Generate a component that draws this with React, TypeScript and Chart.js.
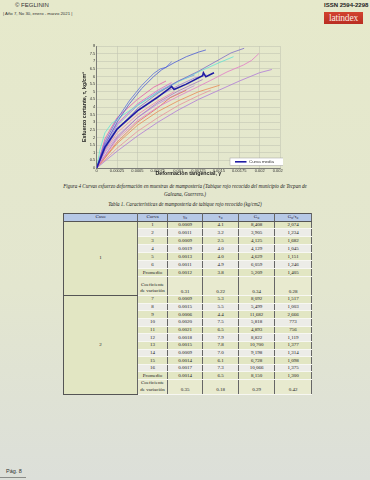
import React, { useEffect, useRef } from "react";
import { Chart, registerables } from "chart.js";

Chart.register(...registerables);

// ---- chart data: [γ, τ] pairs ----
const curve1 = [[0, 0], [0.0001, 1.5], [0.00025, 3.0], [0.0004, 4.2], [0.00055, 5.2], [0.0007, 6.0], [0.0008, 6.45], [0.00095, 6.9], [0.0011, 7.3], [0.00125, 7.6], [0.00134, 7.74]];
const curve2 = [[0, 0], [0.0001, 1.7], [0.00025, 3.2], [0.0004, 4.4], [0.00055, 5.4], [0.0007, 6.2], [0.00078, 6.5], [0.00085, 6.6], [0.00092, 6.97]];
const curve3 = [[0, 0], [0.0001, 1.2], [0.00025, 2.5], [0.0005, 3.9], [0.00075, 4.9], [0.001, 5.7], [0.00125, 6.35], [0.0015, 7.1], [0.00165, 7.55], [0.00181, 7.85]];
const curve4 = [[0, 0], [0.00004, 1.2], [0.0001, 2.3], [0.00018, 2.9], [0.0003, 3.4], [0.0005, 4.1], [0.00075, 4.95], [0.001, 5.65], [0.00125, 6.3], [0.0015, 6.9], [0.00168, 7.3]];
const curve5 = [[0, 0], [0.00025, 1.9], [0.0005, 3.1], [0.00075, 4.0], [0.001, 4.7], [0.00125, 5.35], [0.0014, 5.75], [0.0016, 6.3], [0.0018, 6.75], [0.0019, 7.05], [0.00199, 7.5]];
const curve6 = [[0, 0], [0.00025, 1.1], [0.0005, 2.1], [0.00075, 3.0], [0.001, 3.8], [0.00125, 4.5], [0.0015, 5.1], [0.00175, 5.7], [0.002, 6.25], [0.00215, 6.46]];
const curve7 = [[0, 0], [0.00025, 1.6], [0.0005, 2.8], [0.00075, 3.7], [0.001, 4.4], [0.00125, 5.0], [0.00151, 5.43]];
const curve8 = [[0, 0], [0.0001, 1.6], [0.00025, 2.9], [0.0005, 4.2], [0.00075, 5.1], [0.00092, 5.6]];
const curve9 = [[0, 0], [0.0001, 1.3], [0.00025, 2.6], [0.0005, 3.8], [0.00075, 4.7], [0.001, 5.4], [0.0012, 5.9], [0.00135, 6.1]];
const curve10 = [[0, 0], [0.00025, 1.3], [0.0005, 2.4], [0.00075, 3.3], [0.001, 4.1], [0.00125, 4.75], [0.0014, 5.1]];
const curve11 = [[0, 0], [0.0001, 1.1], [0.00025, 2.3], [0.0005, 3.5], [0.00075, 4.4], [0.00095, 5.0]];
const curve12 = [[0, 0], [0.00025, 2.0], [0.0005, 3.3], [0.00075, 4.3], [0.001, 5.05], [0.0013, 5.8]];
const curve13 = [[0, 0], [0.0001, 1.4], [0.00025, 2.8], [0.0005, 4.1], [0.00075, 5.0], [0.001, 5.7], [0.0012, 6.1]];
const curve14 = [[0, 0], [0.00025, 1.7], [0.0005, 3.0], [0.00075, 3.95], [0.0009, 4.6], [0.0011, 5.1]];
const curve15 = [[0, 0], [0.0001, 1.0], [0.00025, 2.1], [0.0005, 3.3], [0.00075, 4.2], [0.001, 4.9], [0.0012, 5.4]];
const curve16 = [[0, 0], [0.0001, 1.9], [0.00025, 3.3], [0.0005, 4.5], [0.0007, 5.3], [0.00085, 5.7]];
const meanCurve = [[0, 0], [0.0001, 1.35], [0.00025, 2.55], [0.0005, 3.75], [0.00075, 4.65], [0.0009, 5.25], [0.00092, 5.35], [0.00095, 5.15], [0.0011, 5.5], [0.0013, 6.05], [0.00131, 6.25], [0.00134, 5.98], [0.00144, 6.24]];

const curves = [curve1, curve2, curve3, curve4, curve5, curve6, curve7, curve8, curve9, curve10, curve11, curve12, curve13, curve14, curve15, curve16];
const curveColors = ["#4b5bd6", "#5a6ee0", "#7d6cc8", "#62e3d3", "#e27ac8", "#b07ad8", "#e88a55", "#d966d0", "#9b7be0", "#e8909c", "#ec7fb0", "#a574c4", "#7a8ae8", "#e0705a", "#c08ae0", "#e35aa8"];
const meanLabel = "Curva media";
const xTitle = "Deformación tangencial, γ";
const yTitle = "Esfuerzo cortante, τ, kg/cm²";

// ---- table data ----
const case1Curves = ["1", "2", "3", "4", "5", "6"];
const case1Gamma = ["0.0009", "0.0011", "0.0009", "0.0019", "0.0013", "0.0011"];
const case1Tau = ["4.1", "3.2", "2.5", "4.0", "4.0", "4.9"];
const case1G = ["8,408", "3,905", "4,125", "4,129", "4,629", "6,059"];
const case1Ratio = ["2,074", "1,234", "1,682", "1,045", "1,151", "1,246"];
const case1Prom = ["0.0012", "3.8", "5,209", "1,405"];
const case1Coef = ["0.31", "0.22", "0.34", "0.28"];

const case2Curves = ["7", "8", "9", "10", "11", "12", "13", "14", "15", "16"];
const case2Gamma = ["0.0009", "0.0015", "0.0006", "0.0020", "0.0021", "0.0018", "0.0015", "0.0009", "0.0014", "0.0017"];
const case2Tau = ["5.3", "5.5", "4.4", "7.5", "6.5", "7.9", "7.8", "7.0", "6.1", "7.3"];
const case2G = ["8,092", "5,499", "11,682", "5,818", "4,893", "8,822", "10,700", "9,198", "6,728", "10,066"];
const case2Ratio = ["1,517", "1,003", "2,666", "773", "756", "1,119", "1,377", "1,314", "1,098", "1,375"];
const case2Prom = ["0.0014", "6.5", "8,150", "1,300"];
const case2Coef = ["0.35", "0.18", "0.29", "0.42"];

const SANS = "'Liberation Sans', Arial, sans-serif";
const SERIF = "'Liberation Serif', 'Times New Roman', serif";

const toPts = (arr: number[][]) => arr.map(([x, y]) => ({ x, y }));

const legendPlugin = {
  id: "insideLegend",
  afterDraw(chart: any) {
    const { ctx, chartArea } = chart;
    const r = chartArea.right;
    const b = chartArea.bottom;
    ctx.save();
    ctx.fillStyle = "#ffffff";
    ctx.strokeStyle = "#a0a0a0";
    ctx.lineWidth = 0.5;
    ctx.fillRect(r - 50, b - 10, 62, 7.5);
    ctx.strokeRect(r - 50, b - 10, 62, 7.5);
    ctx.strokeStyle = "#1f1ca3";
    ctx.lineWidth = 1.6;
    ctx.beginPath();
    ctx.moveTo(r - 45, b - 6.2);
    ctx.lineTo(r - 33.5, b - 6.2);
    ctx.stroke();
    ctx.fillStyle = "#333";
    ctx.font = `4.4px ${SANS}`;
    ctx.textBaseline = "middle";
    ctx.fillText(chart.data.datasets[0].label, r - 31, b - 6.1);
    ctx.restore();
  },
};

function StressChart() {
  const ref = useRef<HTMLCanvasElement>(null);
  useEffect(() => {
    if (!ref.current) return;
    const datasets: any[] = [
      {
        label: meanLabel,
        data: toPts(meanCurve),
        borderColor: "#1f1ca3",
        backgroundColor: "#1f1ca3",
        borderWidth: 1.6,
        showLine: true,
        pointRadius: 0,
        order: 0,
      },
      ...curves.map((c, i) => ({
        label: `Curva ${i + 1}`,
        data: toPts(c),
        borderColor: curveColors[i],
        backgroundColor: curveColors[i],
        borderWidth: 0.8,
        showLine: true,
        pointRadius: 0,
        order: 1,
      })),
    ];
    const chart = new Chart(ref.current, {
      type: "scatter",
      data: { datasets },
      plugins: [legendPlugin],
      options: {
        animation: false,
        responsive: false,
        maintainAspectRatio: false,
        devicePixelRatio: 1,
        layout: { padding: { top: 10, right: 25, bottom: 0, left: 0 } },
        plugins: { legend: { display: false }, tooltip: { enabled: false } },
        scales: {
          x: {
            type: "linear",
            min: 0,
            max: 0.00225,
            afterFit: (s: any) => { s.height = 9; },
            ticks: {
              stepSize: 0.00025,
              autoSkip: false,
              maxRotation: 0,
              padding: 0.5,
              color: "#333",
              font: { size: 4, family: SANS },
              callback: (v: any) => String(Math.round(Number(v) * 100000) / 100000),
            },
            title: { display: true, text: xTitle, color: "#222", padding: 0, font: { size: 5.3, weight: "bold", family: SANS } },
            grid: { color: "#c3c6b4", lineWidth: 0.6, drawTicks: false },
            border: { color: "#666", width: 0.8 },
          },
          y: {
            min: 0,
            max: 8,
            afterFit: (s: any) => { s.width = 16.7; },
            ticks: {
              stepSize: 0.5,
              autoSkip: false,
              padding: 1.5,
              color: "#333",
              font: { size: 4, family: SANS },
              callback: (v: any) => String(v),
            },
            title: { display: true, text: yTitle, color: "#222", padding: 1, font: { size: 5.3, weight: "bold", family: SANS } },
            grid: { color: "#c3c6b4", lineWidth: 0.6, drawTicks: false },
            border: { color: "#666", width: 0.8 },
          },
        },
      } as any,
    });
    return () => chart.destroy();
  }, []);
  return <canvas ref={ref} width={225} height={141} style={{ width: 225, height: 141, display: "block" }} />;
}

const cellBase: React.CSSProperties = {
  padding: 0,
  textAlign: "center",
  fontSize: 5,
  lineHeight: "6px",
  color: "#222",
  borderLeft: "0.7px solid #666",
  borderRight: "0.7px solid #666",
  borderTop: "0.6px solid #f7f7f2",
  borderBottom: "0.6px solid #f7f7f2",
  whiteSpace: "nowrap",
  overflow: "hidden",
};
const GREEN = "#e2e6c3";
const GRAY = "#ecece7";

function ValueRow({ cells, h, bg, first }: { cells: string[]; h: number; bg: string; first?: React.ReactNode }) {
  return (
    <tr style={{ height: h }}>
      {first}
      {cells.map((c, i) => (
        <td key={i} style={{ ...cellBase, background: bg }}>{c}</td>
      ))}
    </tr>
  );
}

function CoefRow({ values, h }: { values: string[]; h: number }) {
  return (
    <tr style={{ height: h }}>
      <td style={{ ...cellBase, background: "#e8eacf", verticalAlign: "bottom", lineHeight: "6.5px", paddingBottom: 0.5 }}>
        Coeficiente<br />de variación
      </td>
      {values.map((v, i) => (
        <td key={i} style={{ ...cellBase, background: "#e8eacf", verticalAlign: "bottom", paddingBottom: 0.5 }}>{v}</td>
      ))}
    </tr>
  );
}

function CaseBlock({ caseLabel, ids, gamma, tau, g, ratio, prom, coef, rowH, coefH }: any) {
  const caseCell = (
    <td rowSpan={ids.length + 2} style={{ ...cellBase, background: GREEN, borderLeft: "0.8px solid #555", borderTop: "0.7px solid #555", borderBottom: "0.7px solid #555" }}>
      {caseLabel}
    </td>
  );
  return (
    <>
      {ids.map((id: string, i: number) => (
        <ValueRow key={id} h={rowH} bg={i % 2 === 0 ? GREEN : GRAY} cells={[id, gamma[i], tau[i], g[i], ratio[i]]} first={i === 0 ? caseCell : undefined} />
      ))}
      <ValueRow h={rowH} bg={ids.length % 2 === 0 ? GREEN : GRAY} cells={["Promedio", ...prom]} />
      <CoefRow values={coef} h={coefH} />
    </>
  );
}

export default function App() {
  const headStyle: React.CSSProperties = {
    ...cellBase,
    background: "#b6c8e6",
    color: "#1f2740",
    borderTop: "0.8px solid #555",
    borderBottom: "0.8px solid #555",
  };
  const sub = (t: string) => <sub style={{ fontSize: 3.5, verticalAlign: "-1px" }}>{t}</sub>;
  return (
    <div
      style={{
        position: "absolute",
        left: 0,
        top: 0,
        width: 370,
        height: 480,
        overflow: "hidden",
        background: "linear-gradient(180deg, #e6e9cb 0%, #e3e6cf 60%, #dcdfd9 100%)",
        fontFamily: SANS,
      }}
    >
      {/* header */}
      <div style={{ position: "absolute", left: 15, top: 2, fontSize: 6, color: "#333", lineHeight: "7px" }}>© FEGLININ</div>
      <div style={{ position: "absolute", left: 3, top: 11, fontSize: 4.3, color: "#333", lineHeight: "6px" }}>| Año 7, No 30, enero - marzo 2021 |</div>
      <div style={{ position: "absolute", left: 324, top: 2, fontSize: 6, fontWeight: "bold", color: "#222", lineHeight: "7px" }}>ISSN 2594-2298</div>
      <div
        style={{
          position: "absolute",
          left: 324,
          top: 11.5,
          width: 39,
          height: 12.5,
          background: "linear-gradient(180deg, #d2432f 0%, #b92d22 100%)",
          color: "#fbe9e2",
          fontFamily: SERIF,
          fontSize: 9.5,
          lineHeight: "12.5px",
          textAlign: "center",
          letterSpacing: -0.2,
        }}
      >
        latindex
      </div>

      {/* chart */}
      <div style={{ position: "absolute", left: 80, top: 36, width: 203, height: 141, overflow: "hidden" }}>
        <StressChart />
      </div>

      {/* captions */}
      <div style={{ position: "absolute", left: 0, width: 370, top: 183, textAlign: "center", fontFamily: SERIF, fontStyle: "italic", fontSize: 5.1, lineHeight: "7.5px", color: "#222" }}>
        Figura 4 Curvas esfuerzo deformación en muestras de mampostería (Tabique rojo recocido del municipio de Tecpan de
        <br />
        Galeana, Guerrero.)
      </div>
      <div style={{ position: "absolute", left: 0, width: 370, top: 201, textAlign: "center", fontFamily: SERIF, fontStyle: "italic", fontSize: 5.1, lineHeight: "6px", color: "#222" }}>
        Tabla 1. Características de mampostería de tabique rojo recocido (kg/cm2)
      </div>

      {/* table */}
      <table
        style={{
          position: "absolute",
          left: 63,
          top: 212.5,
          width: 248,
          borderCollapse: "collapse",
          tableLayout: "fixed",
          fontFamily: SERIF,
          borderRight: "0.8px solid #555",
        }}
      >
        <colgroup>
          <col style={{ width: 74 }} />
          <col style={{ width: 30 }} />
          <col style={{ width: 35 }} />
          <col style={{ width: 36 }} />
          <col style={{ width: 36 }} />
          <col style={{ width: 37 }} />
        </colgroup>
        <tbody>
          <tr style={{ height: 8 }}>
            <td style={{ ...headStyle, borderLeft: "0.8px solid #555" }}>Caso</td>
            <td style={headStyle}>Curva</td>
            <td style={headStyle}>γ{sub("u")}</td>
            <td style={headStyle}>τ{sub("u")}</td>
            <td style={headStyle}>G{sub("u")}</td>
            <td style={headStyle}>G{sub("u")}/τ{sub("u")}</td>
          </tr>
          <CaseBlock caseLabel="1" ids={case1Curves} gamma={case1Gamma} tau={case1Tau} g={case1G} ratio={case1Ratio} prom={case1Prom} coef={case1Coef} rowH={7.95} coefH={19} />
          <CaseBlock caseLabel="2" ids={case2Curves} gamma={case2Gamma} tau={case2Tau} g={case2G} ratio={case2Ratio} prom={case2Prom} coef={case2Coef} rowH={7.65} coefH={14} />
        </tbody>
      </table>

      {/* footer */}
      <div style={{ position: "absolute", left: 6, top: 468, fontSize: 5.5, color: "#333", lineHeight: "7px" }}>Pág. 8</div>
      <div style={{ position: "absolute", left: 0, top: 477, width: 26, height: 1, background: "#8a8c88" }} />
    </div>
  );
}
